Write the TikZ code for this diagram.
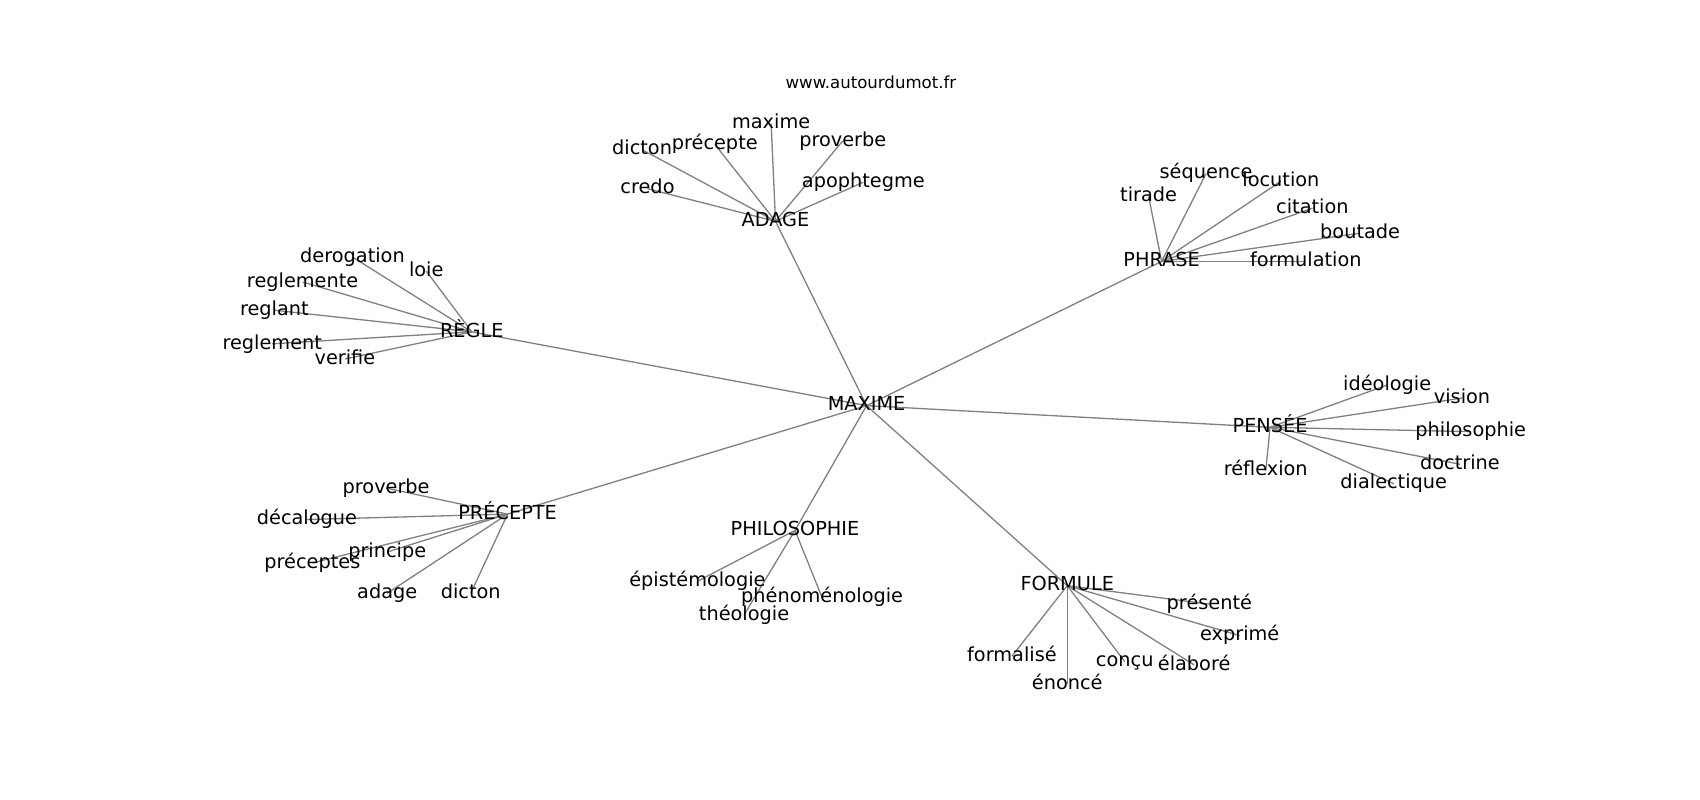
\documentclass[tikz,border=0pt]{standalone}
\usepackage{fontspec}
\setmainfont{DejaVu Sans}
\usetikzlibrary{backgrounds}

\tikzset{
  word/.style={inner sep=0pt,text height=1.2em,text depth=0.24em,font=\fontsize{17.8}{20}\selectfont},
  link/.style={draw=gray,line width=1.2pt}
}

\begin{document}
\begin{tikzpicture}[x=1pt,y=-1pt]
    \useasboundingbox (0,0) rectangle (1567.4,737.6);
    \node (site) at (803,76) [inner sep=0pt,font=\fontsize{15.3}{18}\selectfont] {www.autourdumot.fr};

    \node (maxime) at (799,374) [word] {MAXIME};

    \node (adage) at (715,204) [word] {ADAGE};
    \node (ad1) at (711,114) [word] {maxime};
    \node (ad2) at (592,138) [word] {dicton};
    \node (ad3) at (659,133) [word] {précepte};
    \node (ad4) at (777,130) [word] {proverbe};
    \node (ad5) at (597,174) [word] {credo};
    \node (ad6) at (796,168) [word] {apophtegme};

    \node (phrase) at (1071,241) [word] {PHRASE};
    \node (ph1) at (1112,160) [word] {séquence};
    \node (ph2) at (1059,181) [word] {tirade};
    \node (ph3) at (1181,167) [word] {locution};
    \node (ph4) at (1210,192) [word] {citation};
    \node (ph5) at (1254,215) [word] {boutade};
    \node (ph6) at (1204,241) [word] {formulation};

    \node (regle) at (435,306) [word] {RÈGLE};
    \node (re1) at (325,237) [word] {derogation};
    \node (re2) at (393,250) [word] {loie};
    \node (re3) at (279,260) [word] {reglemente};
    \node (re4) at (253,286) [word] {reglant};
    \node (re5) at (251,317) [word] {reglement};
    \node (re6) at (318,331) [word] {verifie};

    \node (pensee) at (1171,394) [word] {PENSÉE};
    \node (pe1) at (1279,355) [word] {idéologie};
    \node (pe2) at (1348,367) [word] {vision};
    \node (pe3) at (1356,398) [word] {philosophie};
    \node (pe4) at (1346,428) [word] {doctrine};
    \node (pe5) at (1285,446) [word] {dialectique};
    \node (pe6) at (1167,434) [word] {réflexion};

    \node (precepte) at (468,474) [word] {PRÉCEPTE};
    \node (pr1) at (356,450) [word] {proverbe};
    \node (pr2) at (283,479) [word] {décalogue};
    \node (pr3) at (357,509) [word] {principe};
    \node (pr4) at (288,519) [word] {préceptes};
    \node (pr5) at (357,547) [word] {adage};
    \node (pr6) at (434,547) [word] {dicton};

    \node (philo) at (733,489) [word] {PHILOSOPHIE};
    \node (pl1) at (643,536) [word] {épistémologie};
    \node (pl2) at (758,551) [word] {phénoménologie};
    \node (pl3) at (686,567) [word] {théologie};

    \node (formule) at (984,540) [word] {FORMULE};
    \node (fo1) at (1115,557) [word] {présenté};
    \node (fo2) at (1143,586) [word] {exprimé};
    \node (fo3) at (933,605) [word] {formalisé};
    \node (fo4) at (984,631) [word] {énoncé};
    \node (fo5) at (1037,610) [word] {conçu};
    \node (fo6) at (1101,613) [word] {élaboré};

    \begin{scope}[on background layer]
      \foreach \hub in {adage,phrase,regle,pensee,precepte,philo,formule}
        \draw[link] (maxime.center) -- (\hub.center);
      \foreach \hub/\pre/\n in {adage/ad/6,phrase/ph/6,regle/re/6,pensee/pe/6,precepte/pr/6,philo/pl/3,formule/fo/6}
        \foreach \i in {1,...,\n}
          \draw[link] (\hub.center) -- (\pre\i.center);
    \end{scope}
  \end{tikzpicture}
\end{document}
